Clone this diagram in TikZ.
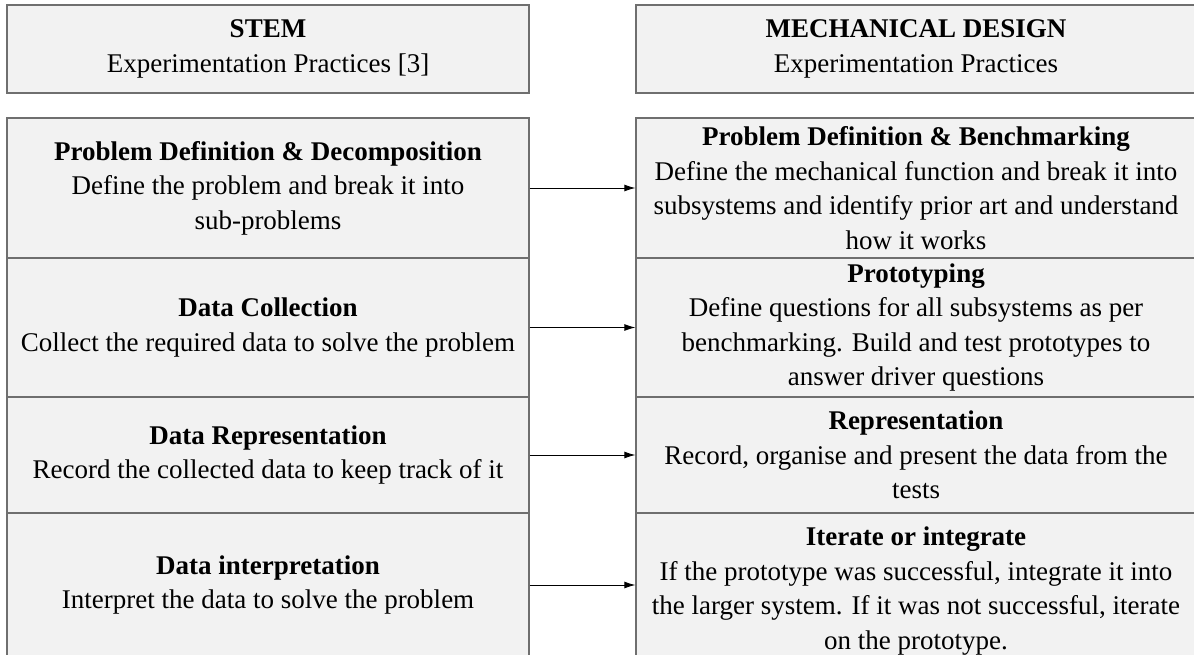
\documentclass[tikz,border=0pt]{standalone}
\usepackage{fontspec}
\setmainfont{Liberation Serif}
\usetikzlibrary{arrows.meta}
\definecolor{boxfill}{HTML}{F2F2F2}
\definecolor{boxline}{HTML}{6F6F6F}
\begin{document}
\begin{tikzpicture}[x=1pt,y=-1pt,
  cell/.style={draw=boxline, line width=1.3pt, fill=boxfill, inner sep=0pt, align=center,
    font=\fontsize{27}{34.5}\selectfont, anchor=center},
  lcell/.style={cell, minimum width=522pt},
  rcell/.style={cell, minimum width=560pt},
  link/.style={draw=black, line width=0.9pt, -{Latex[length=11pt,width=7pt]}}]
\useasboundingbox (0,0) rectangle (1194,655);
% headers
\node[lcell, minimum height=88pt] (lh) at (268,49) {\textbf{STEM}\\Experimentation Practices [3]};
\node[rcell, minimum height=88pt] (rh) at (916,49) {\textbf{MECHANICAL DESIGN}\\Experimentation Practices};
% left column
\node[lcell, minimum height=140pt] (l1) at (268,188) {\textbf{Problem Definition \& Decomposition}\\Define the problem and break it into\\sub-problems};
\node[lcell, minimum height=139pt] (l2) at (268,327.5) {\textbf{Data Collection}\\Collect the required data to solve the problem};
\node[lcell, minimum height=116pt] (l3) at (268,455) {\textbf{Data Representation}\\Record the collected data to keep track of it};
\node[lcell, minimum height=144pt] (l4) at (268,585) {\textbf{Data interpretation}\\Interpret the data to solve the problem};
% right column
\node[rcell, minimum height=140pt] (r1) at (916,188) {\textbf{Problem Definition \& Benchmarking}\\Define the mechanical function and break it into\\subsystems and identify prior art and understand\\how it works};
\node[rcell, minimum height=139pt] (r2) at (916,327.5) {\textbf{Prototyping}\\Define questions for all subsystems as per\\benchmarking. Build and test prototypes to\\answer driver questions};
\node[rcell, minimum height=116pt] (r3) at (916,455) {\textbf{Representation}\\Record, organise and present the data from the\\tests};
\node[rcell, minimum height=156pt] (r4) at (916,591) {\textbf{Iterate or integrate}\\If the prototype was successful, integrate it into\\the larger system. If it was not successful, iterate\\on the prototype.};
% arrows
\draw[link] (l1.east) -- (l1.east -| r1.west);
\draw[link] (l2.east) -- (l2.east -| r2.west);
\draw[link] (l3.east) -- (l3.east -| r3.west);
\draw[link] (l4.east) -- (l4.east -| r4.west);
\end{tikzpicture}
\end{document}
